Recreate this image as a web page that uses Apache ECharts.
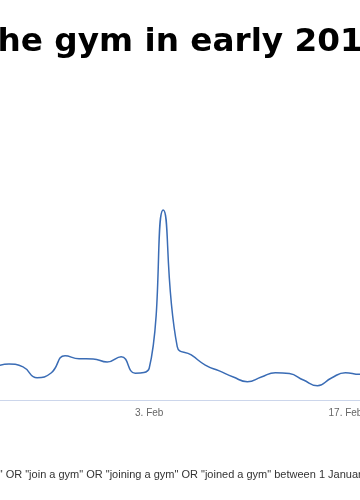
<!DOCTYPE html>
<html>
<head>
<meta charset="utf-8">
<script src="https://cdn.jsdelivr.net/npm/echarts@6/dist/echarts.min.js"></script>
<style>
  html, body { margin: 0; padding: 0; background: #ffffff; }
  #chart { width: 360px; height: 500px; }
</style>
</head>
<body>
<div id="chart"></div>
<script>
// ---- data ----
const dates = [
  '2019-01-23','2019-01-24','2019-01-25','2019-01-26','2019-01-27','2019-01-28','2019-01-29',
  '2019-01-30','2019-01-31','2019-02-01','2019-02-02','2019-02-03','2019-02-04','2019-02-05',
  '2019-02-06','2019-02-07','2019-02-08','2019-02-09','2019-02-10','2019-02-11','2019-02-12',
  '2019-02-13','2019-02-14','2019-02-15','2019-02-16','2019-02-17','2019-02-18','2019-02-19'
];
const searches = [
  17.4, 18.9, 17.4, 11.7, 14.2, 23.3, 21.7,
  21.6, 20.0, 22.8, 14.1, 16.7, 100, 28.1,
  23.7, 18.4, 15.3, 12.1, 9.6, 12.1, 14.4,
  13.9, 10.5, 7.5, 11.6, 14.4, 13.5, 13.7
];
const tickDates = ['2019-02-03', '2019-02-17'];
const monthNames = ['Jan','Feb','Mar','Apr','May','Jun','Jul','Aug','Sep','Oct','Nov','Dec'];
const titleHidden = 'Searches for joining t';
const titleShown = 'he gym in early 2019';
const noteHidden = 'Google searches for "gym membership';
const noteShown = '" OR "join a gym" OR "joining a gym" OR "joined a gym" between 1 January and 28 February 2019';

// ---- helpers ----
const DAY = 86400000;
const BASE = Date.UTC(2019, 0, 1);
function dayNum(s) {
  const p = s.split('-').map(Number);
  return (Date.UTC(p[0], p[1] - 1, p[2]) - BASE) / DAY;
}
function fmt(v) {
  const d = new Date(BASE + Math.round(v) * DAY);
  return d.getUTCDate() + '. ' + monthNames[d.getUTCMonth()];
}
const seriesData = dates.map((d, i) => [dayNum(d), searches[i]]);
const ticks = tickDates.map(dayNum);

// visible window: 3 Feb at x≈149.2, 14.02 px per day
const pxPerDay = 14.02;
const xMin = ticks[0] - 149.2 / pxPerDay;
const xMax = xMin + 360 / pxPerDay;

const chart = echarts.init(document.getElementById('chart'), null, { renderer: 'canvas' });
chart.setOption({
  animation: false,
  backgroundColor: '#ffffff',
  grid: { left: 0, right: 0, top: 191, bottom: 100, containLabel: false, outerBoundsMode: 'none' },
  xAxis: {
    type: 'value',
    min: xMin,
    max: xMax,
    axisLine: { show: true, lineStyle: { color: '#ccd6eb', width: 1 } },
    axisTick: { show: false },
    splitLine: { show: false },
    axisLabel: {
      customValues: ticks,
      formatter: fmt,
      color: '#666666',
      fontSize: 10,
      fontFamily: 'Liberation Sans',
      margin: 8,
      hideOverlap: false
    }
  },
  yAxis: {
    type: 'value',
    min: 0,
    max: 110,
    show: false,
    splitLine: { show: false }
  },
  series: [{
    type: 'line',
    data: seriesData,
    smooth: 0.5,
    showSymbol: false,
    symbol: 'none',
    clip: true,
    lineStyle: { color: '#3a6cb5', width: 1.5 }
  }],
  graphic: [
    { type: 'text', x: -2.5, y: 42.2,
      style: { text: titleHidden, align: 'right', verticalAlign: 'middle',
               font: 'bold 32.7px "DejaVu Sans"', fill: '#000000' } },
    { type: 'text', x: -2.5, y: 42.2,
      style: { text: titleShown, align: 'left', verticalAlign: 'middle',
               font: 'bold 32.7px "DejaVu Sans"', fill: '#000000' } },
    { type: 'text', x: -1.3, y: 474.6,
      style: { text: noteHidden, align: 'right', verticalAlign: 'middle',
               font: '11px "Liberation Sans"', fill: '#333333' } },
    { type: 'text', x: -1.3, y: 474.6,
      style: { text: noteShown, align: 'left', verticalAlign: 'middle',
               font: '11px "Liberation Sans"', fill: '#333333' } }
  ]
});
</script>
</body>
</html>
